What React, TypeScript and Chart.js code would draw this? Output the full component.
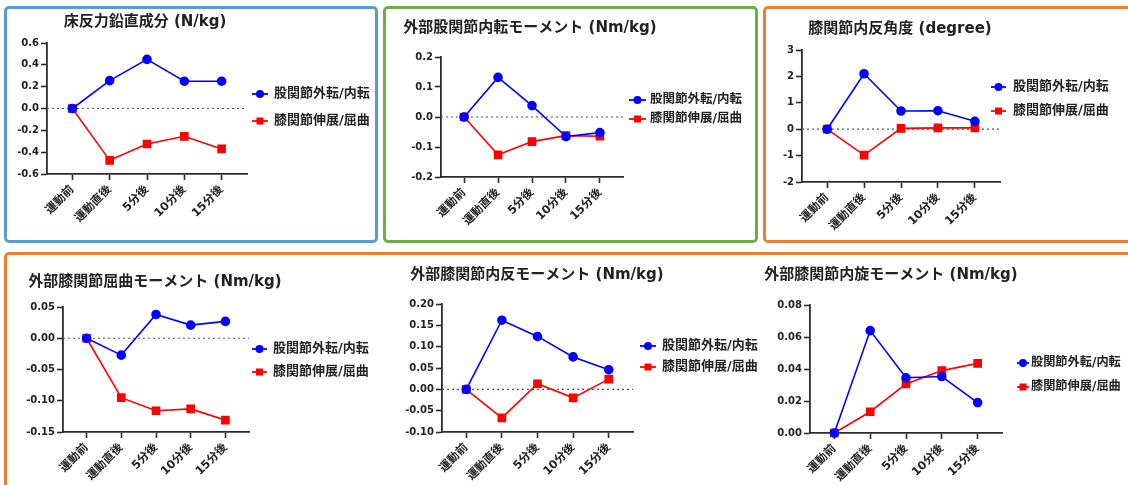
import React, { useEffect, useRef } from 'react';
import { Chart, registerables } from 'chart.js';

Chart.register(...registerables);

// ---------- data ----------
const categories = ['運動前', '運動直後', '5分後', '10分後', '15分後'];
const seriesNames = ['股関節外転/内転', '膝関節伸展/屈曲'];

const grfTitle = '床反力鉛直成分 (N/kg)';
const grfHip = [0, 0.255, 0.45, 0.25, 0.25];
const grfKnee = [0, -0.475, -0.325, -0.255, -0.37];
const grfTicks = [-0.6, -0.4, -0.2, 0, 0.2, 0.4, 0.6];

const hipAddTitle = '外部股関節内転モーメント (Nm/kg)';
const hipAddHip = [0, 0.132, 0.038, -0.065, -0.052];
const hipAddKnee = [0, -0.126, -0.082, -0.062, -0.064];
const hipAddTicks = [-0.2, -0.1, 0, 0.1, 0.2];

const varusAngTitle = '膝関節内反角度 (degree)';
const varusAngHip = [0, 2.1, 0.69, 0.7, 0.3];
const varusAngKnee = [0, -0.98, 0.03, 0.05, 0.05];
const varusAngTicks = [-2, -1, 0, 1, 2, 3];

const kneeFlexTitle = '外部膝関節屈曲モーメント (Nm/kg)';
const kneeFlexHip = [0, -0.027, 0.038, 0.021, 0.027];
const kneeFlexKnee = [0, -0.095, -0.116, -0.113, -0.131];
const kneeFlexTicks = [-0.15, -0.1, -0.05, 0, 0.05];

const kneeVarusTitle = '外部膝関節内反モーメント (Nm/kg)';
const kneeVarusHip = [0, 0.162, 0.124, 0.076, 0.046];
const kneeVarusKnee = [0, -0.067, 0.013, -0.02, 0.024];
const kneeVarusTicks = [-0.1, -0.05, 0, 0.05, 0.1, 0.15, 0.2];

const kneeRotTitle = '外部膝関節内旋モーメント (Nm/kg)';
const kneeRotHip = [0, 0.064, 0.0345, 0.0353, 0.019];
const kneeRotKnee = [0, 0.0133, 0.0307, 0.039, 0.0435];
const kneeRotTicks = [0, 0.02, 0.04, 0.06, 0.08];

// ---------- styling / layout ----------
const FONT = "'DejaVu Sans', 'Noto Sans CJK JP', sans-serif";
const AXIS = '#2b2b2b';
const TEXT = '#222222';
const BLUE = '#0000ff';
const RED = '#ff0000';

type Rect = { x: number; y: number; w: number; h: number };
type Area = { l: number; r: number; t: number; b: number };
type PanelCfg = {
  title: string;
  hip: number[];
  knee: number[];
  ticks: number[];
  decimals: number;
  canvas: Rect;
  area: Area;
  titlePos: [number, number];
  legend: { x0: number; x1: number; tx: number; ys: number[]; size: number };
};

const panels: PanelCfg[] = [
  {
    title: grfTitle, hip: grfHip, knee: grfKnee, ticks: grfTicks, decimals: 1,
    canvas: { x: 8, y: 10, w: 366, h: 230 },
    area: { l: 47, r: 247, t: 43, b: 174 },
    titlePos: [145, 22],
    legend: { x0: 252, x1: 268, tx: 274, ys: [94, 121], size: 13 },
  },
  {
    title: hipAddTitle, hip: hipAddHip, knee: hipAddKnee, ticks: hipAddTicks, decimals: 1,
    canvas: { x: 387, y: 10, w: 368, h: 230 },
    area: { l: 441, r: 623, t: 57, b: 177 },
    titlePos: [530, 28],
    legend: { x0: 629, x1: 646, tx: 650, ys: [100, 119], size: 12.5 },
  },
  {
    title: varusAngTitle, hip: varusAngHip, knee: varusAngKnee, ticks: varusAngTicks, decimals: 0,
    canvas: { x: 767, y: 10, w: 361, h: 230 },
    area: { l: 802, r: 1000, t: 50, b: 182 },
    titlePos: [900, 29],
    legend: { x0: 991, x1: 1006, tx: 1013, ys: [87, 111], size: 13 },
  },
  {
    title: kneeFlexTitle, hip: kneeFlexHip, knee: kneeFlexKnee, ticks: kneeFlexTicks, decimals: 2,
    canvas: { x: 8, y: 256, w: 380, h: 229 },
    area: { l: 63, r: 249, t: 307, b: 432 },
    titlePos: [155, 282],
    legend: { x0: 252, x1: 267, tx: 273, ys: [349, 372], size: 13 },
  },
  {
    title: kneeVarusTitle, hip: kneeVarusHip, knee: kneeVarusKnee, ticks: kneeVarusTicks, decimals: 2,
    canvas: { x: 390, y: 256, w: 370, h: 229 },
    area: { l: 442, r: 633, t: 304, b: 432 },
    titlePos: [537, 275],
    legend: { x0: 640, x1: 656, tx: 662, ys: [346, 367], size: 13 },
  },
  {
    title: kneeRotTitle, hip: kneeRotHip, knee: kneeRotKnee, ticks: kneeRotTicks, decimals: 2,
    canvas: { x: 762, y: 256, w: 366, h: 229 },
    area: { l: 810, r: 1002, t: 305, b: 433 },
    titlePos: [891, 275],
    legend: { x0: 1017, x1: 1029, tx: 1031, ys: [363, 387], size: 12.2 },
  },
];

function zeroPad(s: any) {
  s.paddingLeft = 0;
  s.paddingRight = 0;
  s.paddingTop = 0;
  s.paddingBottom = 0;
}

function Panel({ cfg }: { cfg: PanelCfg }) {
  const ref = useRef<HTMLCanvasElement>(null);
  const c = cfg.canvas;
  const a = cfg.area;

  useEffect(() => {
    const yMin = cfg.ticks[0];
    const yMax = cfg.ticks[cfg.ticks.length - 1];

    const decor = {
      id: 'decor',
      beforeDatasetsDraw(chart: any) {
        const { ctx, chartArea, scales } = chart;
        const y0 = scales.y.getPixelForValue(0);
        if (Math.abs(y0 - chartArea.bottom) > 1) {
          ctx.save();
          ctx.setLineDash([2, 3]);
          ctx.strokeStyle = '#555';
          ctx.lineWidth = 1.2;
          ctx.beginPath();
          ctx.moveTo(chartArea.left, y0);
          ctx.lineTo(chartArea.right, y0);
          ctx.stroke();
          ctx.restore();
        }
      },
      afterDraw(chart: any) {
        const { ctx } = chart;
        ctx.save();
        ctx.fillStyle = TEXT;
        ctx.font = `bold 15px ${FONT}`;
        ctx.textAlign = 'center';
        ctx.textBaseline = 'middle';
        ctx.fillText(cfg.title, cfg.titlePos[0] - c.x, cfg.titlePos[1] - c.y);

        const lg = cfg.legend;
        chart.data.datasets.forEach((ds: any, i: number) => {
          const y = lg.ys[i] - c.y;
          const x0 = lg.x0 - c.x;
          const x1 = lg.x1 - c.x;
          const mx = (x0 + x1) / 2;
          ctx.strokeStyle = ds.borderColor;
          ctx.fillStyle = ds.borderColor;
          ctx.lineWidth = 1.8;
          ctx.setLineDash([]);
          ctx.beginPath();
          ctx.moveTo(x0, y);
          ctx.lineTo(x1, y);
          ctx.stroke();
          if (ds.pointStyle === 'rect') {
            ctx.fillRect(mx - 3.5, y - 3.5, 7, 7);
          } else {
            ctx.beginPath();
            ctx.arc(mx, y, 4, 0, Math.PI * 2);
            ctx.fill();
          }
          ctx.fillStyle = TEXT;
          ctx.font = `bold ${lg.size}px ${FONT}`;
          ctx.textAlign = 'left';
          ctx.textBaseline = 'middle';
          ctx.fillText(ds.label, lg.tx - c.x, y);
        });
        ctx.restore();
      },
    };

    const yTickFont = { family: FONT, size: 10, weight: 'bold' as const };
    const xTickFont = { family: FONT, size: 11.5, weight: 'bold' as const };

    const chart = new Chart(ref.current as HTMLCanvasElement, {
      type: 'line',
      data: {
        datasets: [
          {
            label: seriesNames[0],
            data: cfg.hip.map((v, i) => ({ x: i, y: v })),
            borderColor: BLUE,
            backgroundColor: BLUE,
            pointBackgroundColor: BLUE,
            pointBorderColor: BLUE,
            pointStyle: 'circle',
            pointRadius: 4,
            borderWidth: 1.6,
            clip: false as any,
          },
          {
            label: seriesNames[1],
            data: cfg.knee.map((v, i) => ({ x: i, y: v })),
            borderColor: RED,
            backgroundColor: RED,
            pointBackgroundColor: RED,
            pointBorderColor: RED,
            pointStyle: 'rect',
            pointRadius: 5,
            borderWidth: 1.6,
            clip: false as any,
          },
        ],
      },
      options: {
        animation: false,
        responsive: false,
        maintainAspectRatio: false,
        layout: {
          padding: { left: 0, right: c.x + c.w - a.r, top: a.t - c.y, bottom: 0 },
        },
        plugins: {
          legend: { display: false },
          title: { display: false },
          tooltip: { enabled: false },
        },
        scales: {
          x: {
            type: 'linear',
            min: -0.68,
            max: 4.68,
            afterBuildTicks: (s: any) => {
              s.ticks = categories.map((_, i) => ({ value: i }));
            },
            afterFit: (s: any) => {
              s.height = c.y + c.h - a.b;
              zeroPad(s);
            },
            ticks: {
              callback: (v: any) => categories[Math.round(Number(v))],
              autoSkip: false,
              minRotation: 45,
              maxRotation: 45,
              font: xTickFont,
              color: TEXT,
              padding: 3,
            },
            grid: {
              display: true,
              drawOnChartArea: false,
              drawTicks: true,
              tickLength: 6,
              tickColor: AXIS,
              tickWidth: 1.6,
            },
            border: { display: true, color: AXIS, width: 1.8 },
          },
          y: {
            type: 'linear',
            min: yMin,
            max: yMax,
            afterBuildTicks: (s: any) => {
              s.ticks = cfg.ticks.map((v) => ({ value: v }));
            },
            afterFit: (s: any) => {
              s.width = a.l - c.x;
              zeroPad(s);
            },
            ticks: {
              callback: (v: any) => Number(v).toFixed(cfg.decimals),
              font: yTickFont,
              color: TEXT,
              padding: 2,
            },
            grid: {
              display: true,
              drawOnChartArea: false,
              drawTicks: true,
              tickLength: 6,
              tickColor: AXIS,
              tickWidth: 1.6,
            },
            border: { display: true, color: AXIS, width: 1.8 },
          },
        },
      } as any,
      plugins: [decor],
    });
    return () => chart.destroy();
  }, []);

  return (
    <canvas
      ref={ref}
      width={c.w}
      height={c.h}
      style={{ position: 'absolute', left: c.x, top: c.y, width: c.w, height: c.h }}
    />
  );
}

const frame = (left: number, top: number, width: number, height: number, color: string): React.CSSProperties => ({
  position: 'absolute',
  left,
  top,
  width,
  height,
  boxSizing: 'border-box',
  border: `3px solid ${color}`,
  borderRadius: 5,
});

export default function App() {
  return (
    <div
      style={{
        position: 'absolute',
        left: 0,
        top: 0,
        width: 1128,
        height: 485,
        overflow: 'hidden',
        background: '#ffffff',
      }}
    >
      <div style={frame(4, 6, 374, 237, '#5b9bd5')} />
      <div style={frame(383, 6, 375, 237, '#70ad47')} />
      <div style={frame(763, 6, 380, 237, '#ed7d31')} />
      <div style={frame(4, 252, 1140, 250, '#ed7d31')} />
      {panels.map((p, i) => (
        <Panel key={i} cfg={p} />
      ))}
    </div>
  );
}
